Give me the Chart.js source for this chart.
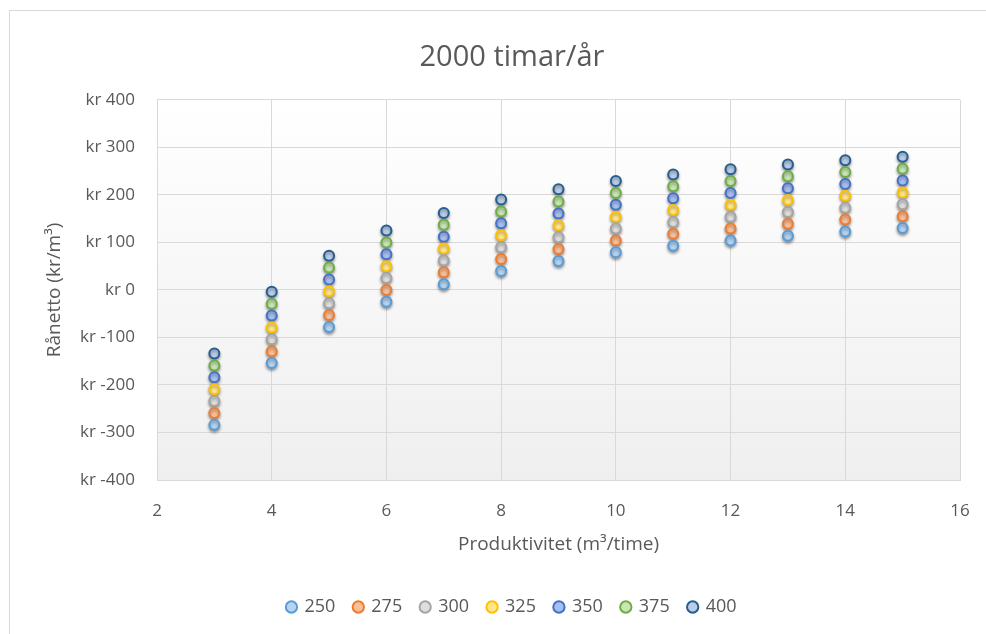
<!DOCTYPE html>
<html>
<head>
<meta charset="utf-8">
<script src="https://cdn.jsdelivr.net/npm/chart.js@4/dist/chart.umd.min.js"></script>
<style>
  html, body { margin: 0; padding: 0; background: #fff; overflow: hidden; }
  #box { position: absolute; left: 9px; top: 10px; width: 1010px; height: 640px; border: 1px solid #d9d9d9; background: #fff; }
  #wrap { position: absolute; left: 0; top: 0; width: 1004px; height: 623px; }
</style>
</head>
<body>
<div id="box"><div id="wrap"><canvas id="mainChart"></canvas></div></div>
<script>
// Produktivitet (m³/time)
const produktivitet = [3, 4, 5, 6, 7, 8, 9, 10, 11, 12, 13, 14, 15];

// Rånetto (kr/m³) per serie
const s250 = [-284, -154, -78, -25, 12, 40, 61, 79, 93, 104, 114, 123, 130];
const s275 = [-259, -129, -53, 0, 37, 65, 86, 104, 118, 129, 139, 148, 155];
const s300 = [-234, -104, -28, 25, 62, 90, 111, 129, 143, 154, 164, 173, 180];
const s325 = [-209, -79, -3, 50, 87, 115, 136, 154, 168, 179, 189, 198, 205];
const s350 = [-184, -54, 22, 75, 112, 140, 161, 179, 193, 204, 214, 223, 230];
const s375 = [-159, -29, 47, 100, 137, 165, 186, 204, 218, 229, 239, 248, 255];
const s400 = [-134, -4, 72, 125, 162, 190, 212, 229, 243, 254, 264, 273, 280];

const serieNamn = ['250', '275', '300', '325', '350', '375', '400'];
const serieData = [s250, s275, s300, s325, s350, s375, s400];
const kantFarger = ['#5b9bd5', '#ed7d31', '#a5a5a5', '#ffc000', '#4472c4', '#70ad47', '#255e91'];
const fyllFarger = ['#b4d4f2', '#f8bf99', '#dedede', '#ffe68a', '#a9bff0', '#c9e6b4', '#bccde6'];

const yTicks = [-400, -300, -200, -100, 0, 100, 200, 300, 400];

const FONT = "'Open Sans', 'Noto Sans', sans-serif";
const GRA = '#595959';

document.addEventListener('DOMContentLoaded', function() {
    // bakgrund i diagramytan (vit -> ljusgrå) + skugga på punkterna
    const plotBg = {
        id: 'plotBg',
        beforeDraw(chart) {
            const { ctx, chartArea: a } = chart;
            const g = ctx.createLinearGradient(0, a.top, 0, a.bottom);
            g.addColorStop(0, '#ffffff');
            g.addColorStop(1, '#efefef');
            ctx.save();
            ctx.fillStyle = g;
            ctx.fillRect(a.left, a.top, a.right - a.left, a.bottom - a.top);
            ctx.restore();
        },
        beforeDatasetDraw(chart) {
            const ctx = chart.ctx;
            ctx.save();
            ctx.shadowColor = 'rgba(0,0,0,0.35)';
            ctx.shadowBlur = 3;
            ctx.shadowOffsetY = 2;
        },
        afterDatasetDraw(chart) {
            chart.ctx.restore();
        }
    };

    const ctx = document.getElementById('mainChart').getContext('2d');
    new Chart(ctx, {
        type: 'scatter',
        data: {
            datasets: serieNamn.map((namn, i) => ({
                label: namn,
                data: produktivitet.map((x, j) => ({ x: x, y: serieData[i][j] })),
                backgroundColor: fyllFarger[i],
                borderColor: kantFarger[i],
                borderWidth: 2,
                pointRadius: 5,
                pointHoverRadius: 5
            }))
        },
        options: {
            responsive: true,
            maintainAspectRatio: false,
            animation: false,
            layout: { padding: { left: 0, right: 0, top: 0, bottom: 8 } },
            plugins: {
                title: {
                    display: true,
                    text: '2000 timar/år',
                    color: GRA,
                    font: { family: FONT, size: 29, weight: 'normal' },
                    padding: { top: 29, bottom: 25 }
                },
                legend: {
                    position: 'bottom',
                    labels: {
                        usePointStyle: true,
                        pointStyle: 'circle',
                        boxWidth: 8,
                        boxHeight: 8,
                        padding: 19,
                        color: GRA,
                        font: { family: FONT, size: 18 }
                    }
                },
                tooltip: { enabled: false }
            },
            scales: {
                x: {
                    type: 'linear',
                    min: 2,
                    max: 16,
                    ticks: { stepSize: 2, color: GRA, font: { family: FONT, size: 17 }, padding: 21 },
                    grid: { color: '#d9d9d9', drawTicks: false },
                    border: { color: '#d9d9d9' },
                    title: {
                        display: true,
                        text: 'Produktivitet (m³/time)',
                        color: GRA,
                        font: { family: FONT, size: 19 },
                        padding: { top: 10, bottom: 23 }
                    },
                    afterFit: s => { s.height = 99; }
                },
                y: {
                    min: -400,
                    max: 400,
                    afterBuildTicks: s => { s.ticks = yTicks.map(v => ({ value: v })); },
                    ticks: {
                        color: GRA,
                        font: { family: FONT, size: 17 },
                        padding: 22,
                        callback: v => 'kr ' + v
                    },
                    grid: { color: '#d9d9d9', drawTicks: false },
                    border: { color: '#d9d9d9' },
                    title: {
                        display: true,
                        text: 'Rånetto (kr/m³)',
                        color: GRA,
                        font: { family: FONT, size: 19 },
                        padding: { top: 33, bottom: 33 }
                    },
                    afterFit: s => { s.width = 147; }
                },
                // tom axel till höger, bara för marginalen
                yRight: {
                    position: 'right',
                    display: true,
                    grid: { display: false, drawTicks: false },
                    border: { display: false },
                    ticks: { display: false },
                    afterFit: s => { s.width = 54; }
                }
            }
        },
        plugins: [plotBg]
    });
});
</script>
</body>
</html>
